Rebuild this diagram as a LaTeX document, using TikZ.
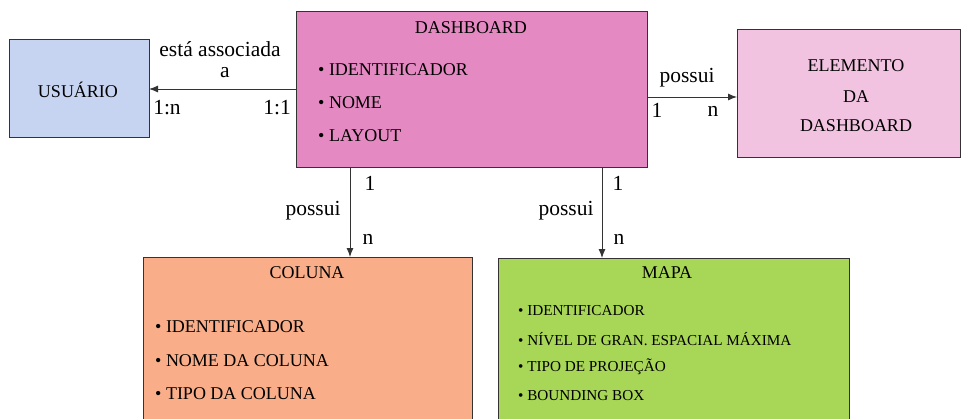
\documentclass[tikz,border=0pt]{standalone}
\usepackage{fontspec}
\setmainfont{Liberation Serif}
\usetikzlibrary{arrows.meta}
\definecolor{cusu}{HTML}{C6D4F2}
\definecolor{cdash}{HTML}{E589C3}
\definecolor{celem}{HTML}{F2C3E0}
\definecolor{ccol}{HTML}{F9AE89}
\definecolor{cmapa}{HTML}{A8D656}
\definecolor{cline}{HTML}{333333}
\tikzset{
  entbox/.style={draw=cline, line width=1pt, anchor=north west, inner sep=0pt},
  big/.style={font=\fontsize{18}{21}\selectfont, inner sep=0pt, text=black},
  small/.style={font=\fontsize{15.2}{18}\selectfont, inner sep=0pt, text=black},
  lbl/.style={font=\fontsize{21.5}{24}\selectfont, inner sep=0pt, text=black},
  card/.style={font=\fontsize{21.5}{24}\selectfont, inner sep=0pt, text=black},
  rel/.style={draw=cline, line width=0.9pt, -{Latex[length=9pt,width=7pt]}},
}
\begin{document}
\begin{tikzpicture}[x=1pt,y=-1pt]
\useasboundingbox (0,0) rectangle (963,418);
\clip (0,0) rectangle (963,418);
% boxes
\node[entbox, fill=cusu, minimum width=140pt, minimum height=98pt] (usu) at (9,39) {};
\node[entbox, fill=cdash, minimum width=351pt, minimum height=156pt] (dash) at (296,11) {};
\node[entbox, fill=celem, minimum width=223pt, minimum height=128pt] (elem) at (737,29) {};
\node[entbox, fill=ccol, minimum width=329pt, minimum height=180pt] (col) at (143,257) {};
\node[entbox, fill=cmapa, minimum width=351pt, minimum height=180pt] (mapa) at (498,258) {};
% texts
\node[big] (tusu) at (78,90) {USUÁRIO};
\node[big] (tdash) at (471,28) {DASHBOARD};
\node[big, anchor=west] (d1) at (318,70) {• IDENTIFICADOR};
\node[big, anchor=west] (d2) at (318,103) {• NOME};
\node[big, anchor=west] (d3) at (318,136) {• LAYOUT};
\node[big] (te1) at (856,66) {ELEMENTO};
\node[big] (te2) at (856,97) {DA};
\node[big] (te3) at (856,126) {DASHBOARD};
\node[big] (tcol) at (307,273) {COLUNA};
\node[big, anchor=west] (c1) at (155,327) {• IDENTIFICADOR};
\node[big, anchor=west] (c2) at (155,361) {• NOME DA COLUNA};
\node[big, anchor=west] (c3) at (155,394) {• TIPO DA COLUNA};
\node[big] (tmapa) at (667,273) {MAPA};
\node[small, anchor=west] (m1) at (518,311) {• IDENTIFICADOR};
\node[small, anchor=west] (m2) at (518,339) {• NÍVEL DE GRAN. ESPACIAL MÁXIMA};
\node[small, anchor=west] (m3) at (518,367) {• TIPO DE PROJEÇÃO};
\node[small, anchor=west] (m4) at (518,396) {• BOUNDING BOX};
% connectors
\coordinate (a1s) at (296,89);
\coordinate (a1e) at (149,89);
\draw[rel] (a1s) -- (a1e);
\coordinate (a2s) at (647,97);
\coordinate (a2e) at (737,97);
\draw[rel] (a2s) -- (a2e);
\coordinate (a3s) at (350,167);
\coordinate (a3e) at (350,257);
\draw[rel] (a3s) -- (a3e);
\coordinate (a4s) at (602,167);
\coordinate (a4e) at (602,258);
\draw[rel] (a4s) -- (a4e);
% labels
\node[lbl] (l1a) at (220,49) {está associada};
\node[lbl] (l1b) at (225,73) {a};
\node[card] (k1a) at (167,108) {1:n};
\node[card, anchor=east] (k1b) at (291,108) {1:1};
\node[lbl] (l2) at (687,78) {possui};
\node[card] (k2a) at (657,110) {1};
\node[card] (k2b) at (713,111) {n};
\node[card] (k3a) at (370,183) {1};
\node[lbl] (l3) at (313,211) {possui};
\node[card] (k3b) at (368,239) {n};
\node[card] (k4a) at (618,183) {1};
\node[lbl] (l4) at (566,211) {possui};
\node[card] (k4b) at (619,239) {n};
\end{tikzpicture}
\end{document}
